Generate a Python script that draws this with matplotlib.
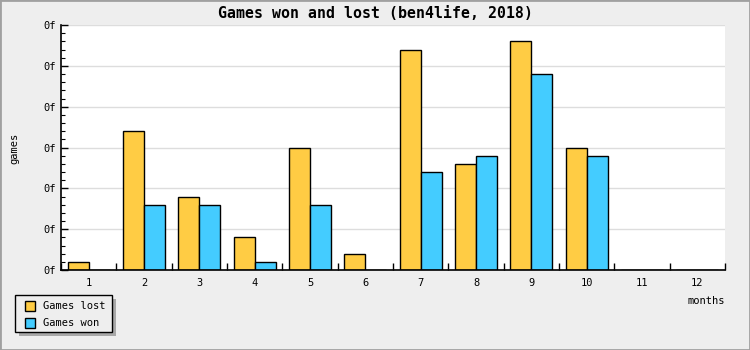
import numpy as np
import matplotlib.pyplot as plt
from matplotlib.patches import Rectangle

# monthly results
months = list(range(1, 13))
games_lost = [1, 17, 9, 4, 15, 2, 27, 13, 28, 15, 0, 0]
games_won = [0, 8, 8, 1, 8, 0, 12, 14, 24, 14, 0, 0]
y_ticks = [0, 5, 10, 15, 20, 25, 30]
y_tick_labels = ['0f'] * len(y_ticks)
series_names = ['Games lost', 'Games won']

lost_color = '#FFCC44'
won_color = '#44CCFF'
bg = '#EEEEEE'

plt.rcParams['font.family'] = ['DejaVu Sans Mono']
small = 7.5
W, H = 750, 350


def px(x0, y0):
    # pixel position (top-left origin) -> figure fraction
    return x0 / W, 1 - y0 / H


fig = plt.figure(figsize=(7.5, 3.5), dpi=100, facecolor=bg)
fig.patches.append(Rectangle((0, 0), 1, 1, transform=fig.transFigure, fill=False,
                             edgecolor='#A0A0A0', linewidth=2))
ax = fig.add_axes([61 / W, 80 / H, 664 / W, 245 / H])
ax.set_facecolor('white')

x = np.arange(len(months))
w = 0.38
ax.bar(x - w / 2, games_lost, w, color=lost_color, edgecolor='black', linewidth=1, zorder=3)
ax.bar(x + w / 2, games_won, w, color=won_color, edgecolor='black', linewidth=1, zorder=3)

ax.set_xlim(-0.5, len(months) - 0.5)
ax.set_ylim(0, 30)

# category labels centred, ticks on the boundaries
ax.set_xticks(np.arange(len(months) + 1) - 0.5)
ax.set_xticklabels([])
ax.set_xticks(x, minor=True)
ax.set_xticklabels([str(m) for m in months], minor=True, fontsize=small)
ax.tick_params(axis='x', which='major', direction='in', length=5, width=1)
ax.tick_params(axis='x', which='minor', length=0, pad=6)

ax.set_yticks(y_ticks)
ax.set_yticklabels(y_tick_labels, fontsize=small)
ax.set_yticks(np.arange(0, 31, 1), minor=True)
ax.tick_params(axis='y', which='major', direction='in', length=5, width=1, pad=4)
ax.tick_params(axis='y', which='minor', direction='in', length=3, width=0.8)
ax.grid(axis='y', which='major', color='#DDDDDD', linewidth=1, zorder=0)

for s in ['top', 'right']:
    ax.spines[s].set_visible(False)
for s in ['left', 'bottom']:
    ax.spines[s].set_linewidth(1.2)
    ax.spines[s].set_zorder(4)

fig.text(*px(375, 13), 'Games won and lost (ben4life, 2018)', ha='center', va='center',
         fontsize=10.7, fontweight='bold')
fig.text(*px(14, 148), 'games', rotation=90, ha='center', va='center', fontsize=small)
fig.text(*px(725, 301), 'months', ha='right', va='center', fontsize=small)

# legend box with a drop shadow
def fig_rect(x0, y0, x1, y1, **kw):
    fx0, fy1 = px(x0, y1)
    fx1, fy0 = px(x1, y0)
    fig.patches.append(Rectangle((fx0, fy1), fx1 - fx0, fy0 - fy1,
                                 transform=fig.transFigure, **kw))


fig_rect(19, 299, 116, 336, facecolor='#A8A8A8', edgecolor='none')
fig_rect(15, 295, 112, 332, facecolor=bg, edgecolor='black', linewidth=1)
for i, (name, color) in enumerate(zip(series_names, [lost_color, won_color])):
    top = 301 + i * 16.5
    fig_rect(25, top, 35, top + 10, facecolor=color, edgecolor='black', linewidth=1)
    fig.text(*px(43, top + 5), name, ha='left', va='center', fontsize=small)

fig.savefig('out.png', dpi=100, facecolor=bg)
